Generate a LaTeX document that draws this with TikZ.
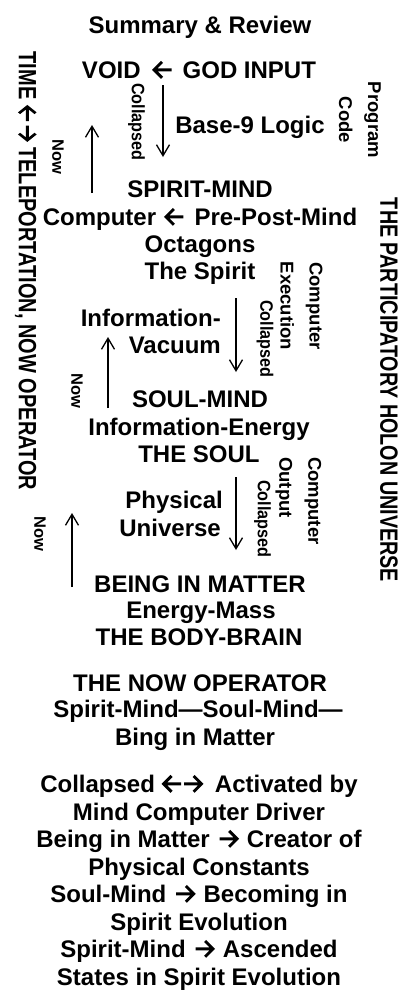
\documentclass[tikz,border=0pt]{standalone}
\usepackage{fontspec}
\usepackage{graphicx}
\setmainfont{Liberation Sans}
\usetikzlibrary{arrows.meta}

% bold chevron arrows used inside the text lines
\newcommand\arrowL{\tikz[reset cm,baseline=0pt,x=1em,y=1em]\draw[line width=0.12em,line join=miter]
  (0.40,0.67)--(0.07,0.34)--(0.40,0.01)(0.07,0.34)--(0.80,0.34);}
\newcommand\arrowR{\tikz[reset cm,baseline=0pt,x=1em,y=1em]\draw[line width=0.12em,line join=miter]
  (0.47,0.67)--(0.80,0.34)--(0.47,0.01)(0.80,0.34)--(0.07,0.34);}

\tikzset{
  main/.style={font=\fontsize{24}{27}\selectfont\bfseries, inner sep=0pt, anchor=base},
  sidetext/.style={font=\fontsize{25}{27}\selectfont\bfseries, inner sep=0pt, rotate=-90},
  coll/.style={font=\fontsize{18}{20}\selectfont\bfseries, inner sep=0pt, rotate=-90},
  nowlbl/.style={font=\fontsize{16.5}{20}\selectfont\bfseries, inner sep=0pt, rotate=-90},
  vlbl/.style={font=\fontsize{18.5}{29}\selectfont\bfseries, inner sep=0pt, rotate=-90},
  flow/.style={line width=1.3pt, -{Straight Barb[length=11pt,width=13pt]}},
}

\begin{document}
\begin{tikzpicture}[x=1pt,y=-1pt]
\path[use as bounding box, fill=white] (0,0) rectangle (420,1002);

% heading and the three levels
\node[main] (title) at (200,33) {Summary \& Review};
\node[main] (void) at (199,78) {VOID\hspace{0.5em}\arrowL\hspace{0.4em}GOD INPUT};
\node[main] (logic) at (250,133) {Base-9 Logic};

\node[main] (spirit) at (200,197) {SPIRIT-MIND};
\node[main] (computer) at (200,225) {Computer\hspace{0.35em}\arrowL\hspace{0.4em}Pre-Post-Mind};
\node[main] (octagons) at (200,252) {Octagons};
\node[main] (thespirit) at (200,279) {The Spirit};
\node[main, anchor=base east] (info) at (221,326) {Information-};
\node[main, anchor=base east] (vacuum) at (221,353) {Vacuum};

\node[main] (soul) at (200,407) {SOUL-MIND};
\node[main] (infoenergy) at (199,435) {Information-Energy};
\node[main] (thesoul) at (199,462) {THE SOUL};
\node[main, anchor=base east] (physical) at (223,508) {Physical};
\node[main, anchor=base east] (universe) at (221,536) {Universe};

\node[main] (being) at (200,592) {BEING IN MATTER};
\node[main] (energymass) at (201,618) {Energy-Mass};
\node[main] (bodybrain) at (199,645) {THE BODY-BRAIN};

\node[main] (nowop) at (200,691) {THE NOW OPERATOR};
\node[main] (chain) at (198,717) {Spirit-Mind—Soul-Mind—};
\node[main] (bing) at (195,745) {Bing in Matter};

% closing summary
\node[main] (s1) at (199,792) {Collapsed\hspace{0.3em}\arrowL\arrowR\hspace{0.5em}Activated by};
\node[main] (s2) at (199,820) {Mind Computer Driver};
\node[main] (s3) at (199,847) {Being in Matter\hspace{0.35em}\arrowR\hspace{0.35em}Creator of};
\node[main] (s4) at (199,875) {Physical Constants};
\node[main] (s5) at (199,902) {Soul-Mind\hspace{0.35em}\arrowR\hspace{0.35em}Becoming in};
\node[main] (s6) at (199,930) {Spirit Evolution};
\node[main] (s7) at (199,957) {Spirit-Mind\hspace{0.35em}\arrowR\hspace{0.35em}Ascended};
\node[main] (s8) at (199,985) {States in Spirit Evolution};

% side captions
\node[sidetext] (timeop) at (26,271) {\scalebox{0.8}[1]{TIME\hspace{0.3em}\arrowL\hspace{0.1em}\arrowR\hspace{0.3em}TELEPORTATION, NOW OPERATOR}};
\node[sidetext] (holon) at (389,390) {\scalebox{0.79}[1]{THE PARTICIPATORY HOLON UNIVERSE}};

% labels beside the arrows
\node[coll] (c1) at (136.5,122) {\scalebox{0.9}[1]{Collapsed}};
\node[coll] (c2) at (265,339) {\scalebox{0.9}[1]{Collapsed}};
\node[coll] (c3) at (262.5,519) {\scalebox{0.9}[1]{Collapsed}};
\node[nowlbl] (n1) at (58,157) {Now};
\node[nowlbl] (n2) at (77,391) {Now};
\node[nowlbl] (n3) at (40,534) {Now};
\node[vlbl, align=center] (prog) at (360,120) {Program\\Code};
\node[vlbl, align=center] (exec) at (301.5,306) {Computer\\Execution};
\node[vlbl, align=left, anchor=west] (output) at (298.5,457) {Computer\\Output};

% collapse (down) and now (up) arrows
\coordinate (d1a) at (163,85);  \coordinate (d1b) at (163,157);
\coordinate (d2a) at (236,298); \coordinate (d2b) at (236,372);
\coordinate (d3a) at (236,477); \coordinate (d3b) at (236,550);
\coordinate (u1a) at (92,193);  \coordinate (u1b) at (92,125);
\coordinate (u2a) at (108,408); \coordinate (u2b) at (108,337);
\coordinate (u3a) at (72,587);  \coordinate (u3b) at (72,513);
\draw[flow] (d1a) -- (d1b);
\draw[flow] (d2a) -- (d2b);
\draw[flow] (d3a) -- (d3b);
\draw[flow] (u1a) -- (u1b);
\draw[flow] (u2a) -- (u2b);
\draw[flow] (u3a) -- (u3b);
\end{tikzpicture}
\end{document}
